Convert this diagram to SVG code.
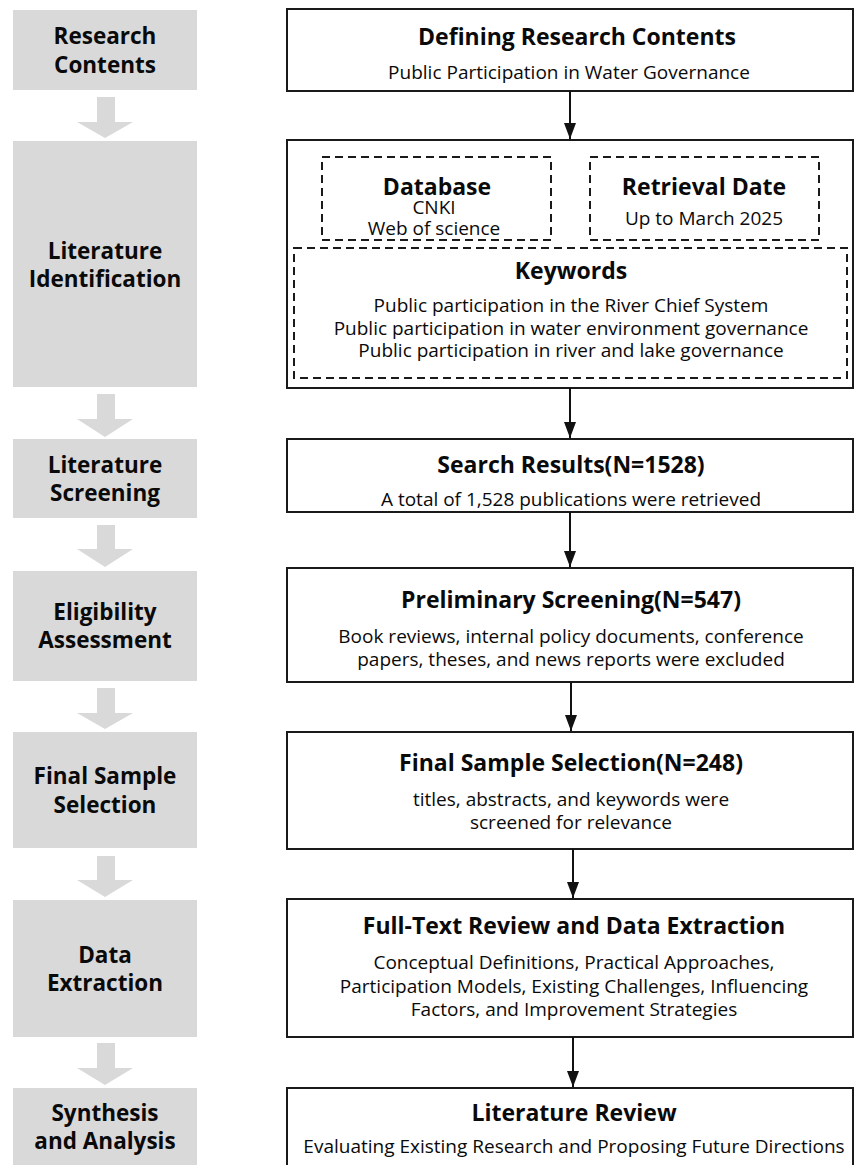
<svg xmlns="http://www.w3.org/2000/svg" width="857" height="1165" viewBox="0 0 857 1165">
<defs>
<style>
.stage{fill:#d9d9d9;stroke:none}
.garrow{fill:#d9d9d9;stroke:none}
.box{fill:#ffffff;stroke:#1a1a1a;stroke-width:2}
.dash{fill:none;stroke:#1a1a1a;stroke-width:2;stroke-dasharray:8 5}
.lbl{font-family:"Open Sans","Noto Sans","Liberation Sans",sans-serif;font-weight:bold;font-size:22.5px;fill:#0a0a0a;text-anchor:middle}
.ttl{font-family:"Open Sans","Noto Sans","Liberation Sans",sans-serif;font-weight:bold;font-size:23px;fill:#0a0a0a;text-anchor:middle}
.txt{font-family:"Open Sans","Noto Sans","Liberation Sans",sans-serif;font-size:19px;fill:#0a0a0a;text-anchor:middle}
.conn{stroke:#111;stroke-width:2;fill:none}
</style>
<marker id="ah" markerWidth="16" markerHeight="12" refX="16" refY="6" orient="auto" markerUnits="userSpaceOnUse" viewBox="0 0 16 12">
<path d="M0,0 L16,6 L0,12 Z" fill="#111"/>
</marker>
</defs>
<rect width="857" height="1165" fill="#ffffff"/>

<g id="stages">
<g id="stage-research-contents"><rect class="stage" x="13" y="10" width="184" height="80"/><text class="lbl" x="105" y="44">Research</text><text class="lbl" x="105" y="73">Contents</text></g>
<g id="stage-identification"><rect class="stage" x="13" y="141" width="184" height="246"/><text class="lbl" x="105" y="259">Literature</text><text class="lbl" x="105" y="287">Identification</text></g>
<g id="stage-screening"><rect class="stage" x="13" y="439" width="184" height="79"/><text class="lbl" x="105" y="473">Literature</text><text class="lbl" x="105" y="501">Screening</text></g>
<g id="stage-eligibility"><rect class="stage" x="13" y="571" width="184" height="110"/><text class="lbl" x="105" y="620">Eligibility</text><text class="lbl" x="105" y="648">Assessment</text></g>
<g id="stage-final-sample"><rect class="stage" x="13" y="732" width="184" height="116"/><text class="lbl" x="105" y="784">Final Sample</text><text class="lbl" x="105" y="813">Selection</text></g>
<g id="stage-data-extraction"><rect class="stage" x="13" y="900" width="184" height="137"/><text class="lbl" x="105" y="963">Data</text><text class="lbl" x="105" y="991">Extraction</text></g>
<g id="stage-synthesis"><rect class="stage" x="13" y="1088" width="184" height="80"/><text class="lbl" x="105" y="1121">Synthesis</text><text class="lbl" x="105" y="1149">and Analysis</text></g>
</g>

<g id="stage-arrows">
<path class="garrow" d="M97,97 H115 V122 H133 L105,138 L77,122 H97 Z"/>
<path class="garrow" d="M97,394 H115 V419 H133 L105,437 L77,419 H97 Z"/>
<path class="garrow" d="M97,525 H115 V549 H133 L105,567 L77,549 H97 Z"/>
<path class="garrow" d="M97,688 H115 V713 H133 L105,729 L77,713 H97 Z"/>
<path class="garrow" d="M97,856 H115 V880 H133 L105,897 L77,880 H97 Z"/>
<path class="garrow" d="M97,1043 H115 V1068 H133 L105,1085 L77,1068 H97 Z"/>
</g>

<g id="n1"><rect class="box" x="287" y="9" width="566" height="82"/>
<text class="ttl" x="577" y="45">Defining Research Contents</text>
<text class="txt" x="569" y="79">Public Participation in Water Governance</text></g>

<g id="n2"><rect class="box" x="287" y="140" width="566" height="248"/>
<g id="n2-database"><rect class="dash" x="322" y="157" width="229" height="83"/>
<text class="ttl" x="437" y="195">Database</text>
<text class="txt" x="434" y="214">CNKI</text>
<text class="txt" x="434" y="235">Web of science</text></g>
<g id="n2-date"><rect class="dash" x="590" y="157" width="229" height="83"/>
<text class="ttl" x="704" y="195">Retrieval Date</text>
<text class="txt" x="704" y="225">Up to March 2025</text></g>
<g id="n2-keywords"><rect class="dash" x="294" y="248" width="553" height="130"/>
<text class="ttl" x="571" y="279">Keywords</text>
<text class="txt" x="571" y="312">Public participation in the River Chief System</text>
<text class="txt" x="571" y="335">Public participation in water environment governance</text>
<text class="txt" x="571" y="357">Public participation in river and lake governance</text></g>
</g>

<g id="n3"><rect class="box" x="287" y="439" width="566" height="73"/>
<text class="ttl" x="571" y="473">Search Results(N=1528)</text>
<text class="txt" x="571" y="506">A total of 1,528 publications were retrieved</text></g>

<g id="n4"><rect class="box" x="287" y="568" width="566" height="114"/>
<text class="ttl" x="571" y="608">Preliminary Screening(N=547)</text>
<text class="txt" x="571" y="643">Book reviews, internal policy documents, conference</text>
<text class="txt" x="571" y="666">papers, theses, and news reports were excluded</text></g>

<g id="n5"><rect class="box" x="287" y="732" width="566" height="117"/>
<text class="ttl" x="571" y="771">Final Sample Selection(N=248)</text>
<text class="txt" x="571" y="806">titles, abstracts, and keywords were</text>
<text class="txt" x="571" y="829">screened for relevance</text></g>

<g id="n6"><rect class="box" x="287" y="899" width="566" height="138"/>
<text class="ttl" x="574" y="934">Full-Text Review and Data Extraction</text>
<text class="txt" x="574" y="969">Conceptual Definitions, Practical Approaches,</text>
<text class="txt" x="574" y="993">Participation Models, Existing Challenges, Influencing</text>
<text class="txt" x="574" y="1016">Factors, and Improvement Strategies</text></g>

<g id="n7"><rect class="box" x="287" y="1088" width="566" height="90"/>
<text class="ttl" x="574" y="1121">Literature Review</text>
<text class="txt" x="574" y="1153">Evaluating Existing Research and Proposing Future Directions</text></g>

<g id="connectors">
<line class="conn" x1="570" y1="91" x2="570" y2="139" marker-end="url(#ah)"/>
<line class="conn" x1="570" y1="388" x2="570" y2="438" marker-end="url(#ah)"/>
<line class="conn" x1="570" y1="512" x2="570" y2="567" marker-end="url(#ah)"/>
<line class="conn" x1="571" y1="682" x2="571" y2="731" marker-end="url(#ah)"/>
<line class="conn" x1="573" y1="849" x2="573" y2="898" marker-end="url(#ah)"/>
<line class="conn" x1="573" y1="1037" x2="573" y2="1087" marker-end="url(#ah)"/>
</g>
</svg>
